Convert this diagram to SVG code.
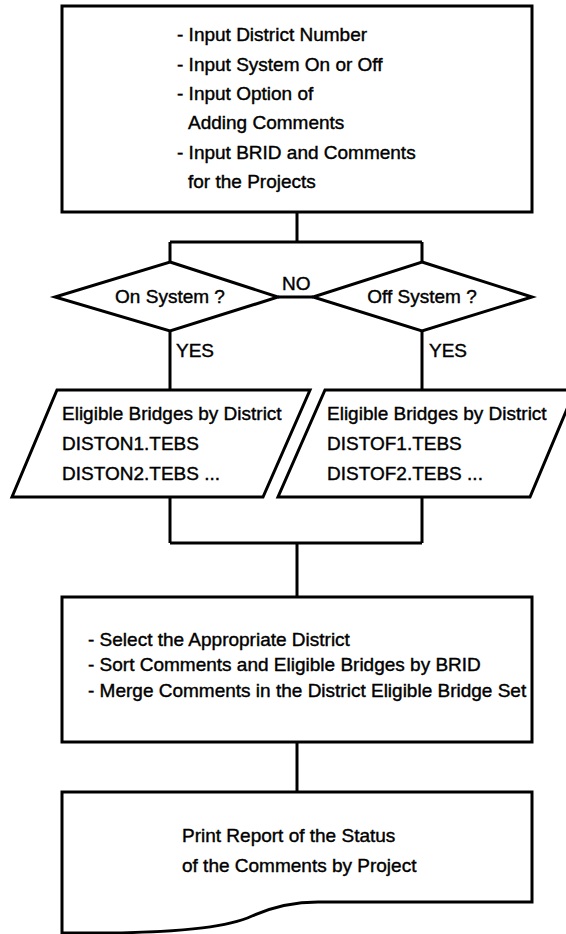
<svg xmlns="http://www.w3.org/2000/svg" width="566" height="934" viewBox="0 0 566 934">
<style>
.s{fill:#fff;stroke:#000;stroke-width:3;stroke-linejoin:miter}
.c{fill:none;stroke:#000;stroke-width:3}
text{font-family:"Liberation Sans",Arial,sans-serif;font-size:19px;fill:#000;stroke:#000;stroke-width:0.4}
</style>
<rect x="0" y="0" width="566" height="934" fill="#fff"/>
<g id="connectors">
<path class="c" d="M297,212V242M170,242H422M170,242V262M422,242V262"/>
<path class="c" d="M278,297H313"/>
<path class="c" d="M170,331V390M422,331V390"/>
<path class="c" d="M170,497V543M422,497V543M170,543H422M297,543V597"/>
<path class="c" d="M297,742V792"/>
<text x="282" y="290">NO</text>
<text x="176" y="357">YES</text>
<text x="429" y="357">YES</text>
</g>
<g id="input">
<rect class="s" x="62" y="6" width="470" height="206"/>
<text x="177" y="41">- Input District Number</text>
<text x="177" y="71">- Input System On or Off</text>
<text x="177" y="100">- Input Option of</text>
<text x="188" y="129">Adding Comments</text>
<text x="177" y="159">- Input BRID and Comments</text>
<text x="188" y="188">for the Projects</text>
</g>
<g id="onSystem">
<polygon class="s" points="170,262 278,297 170,331 55,297"/>
<text x="170" y="303" text-anchor="middle">On System ?</text>
</g>
<g id="offSystem">
<polygon class="s" points="422,262 532,297 422,331 313,297"/>
<text x="422" y="303" text-anchor="middle">Off System ?</text>
</g>
<g id="onData">
<polygon class="s" points="57,390 310,390 263,497 12,497"/>
<text x="62" y="420">Eligible Bridges by District</text>
<text x="62" y="450">DISTON1.TEBS</text>
<text x="62" y="480">DISTON2.TEBS ...</text>
</g>
<g id="offData">
<polygon class="s" points="325,390 575,390 530,497 278,497"/>
<text x="327" y="420">Eligible Bridges by District</text>
<text x="327" y="450">DISTOF1.TEBS</text>
<text x="327" y="480">DISTOF2.TEBS ...</text>
</g>
<g id="process">
<rect class="s" x="62" y="597" width="470" height="145"/>
<text x="88" y="646">- Select the Appropriate District</text>
<text x="88" y="671">- Sort Comments and Eligible Bridges by BRID</text>
<text x="88" y="697">- Merge Comments in the District Eligible Bridge Set</text>
</g>
<g id="report">
<path class="s" d="M62,792H532V902H318C290,902 270,908 252,916C230,926 190,932 107,933H62Z"/>
<text x="182" y="842">Print Report of the Status</text>
<text x="182" y="872">of the Comments by Project</text>
</g>
</svg>
